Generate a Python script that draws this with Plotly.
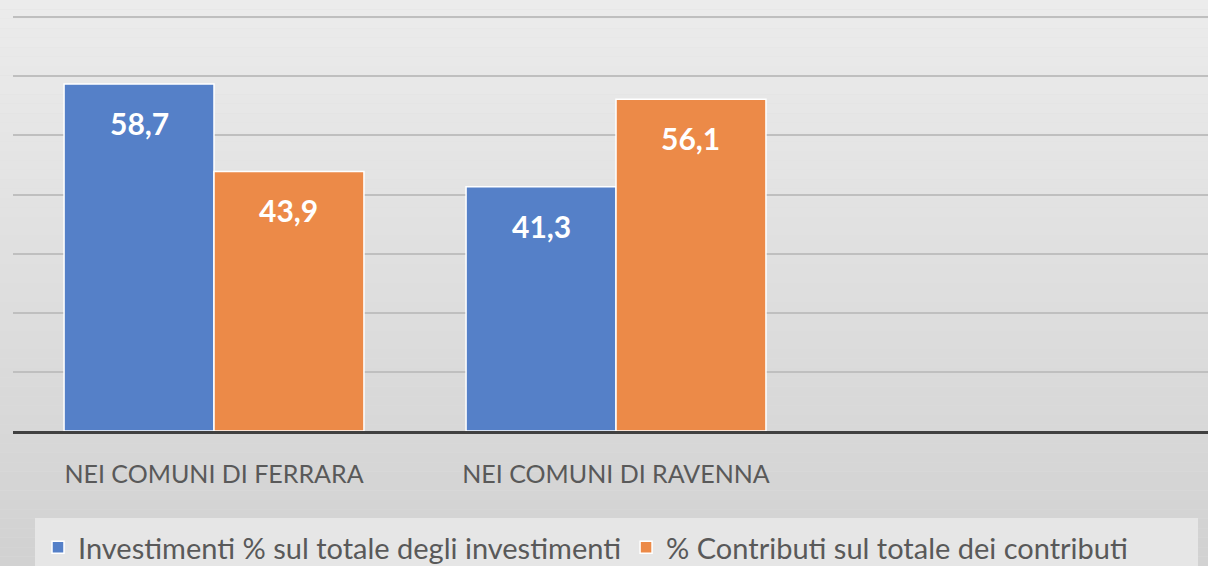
import plotly.graph_objects as go

categories = ["NEI COMUNI DI FERRARA", "NEI COMUNI DI RAVENNA"]
series_names = ["Investimenti % sul totale degli investimenti",
                "% Contributi sul totale dei contributi"]
investimenti = [58.7, 41.3]
contributi = [43.9, 56.1]
colors = ["#5580C8", "#EC8A48"]

W, H = 1208, 566
ML, MR, MT, MB = 13, 0, 0, 135
FONT = "Lato"

fig = go.Figure()
for name, vals, col in zip(series_names, [investimenti, contributi], colors):
    fig.add_trace(go.Bar(
        x=categories, y=vals, name=name,
        marker=dict(color=col, line=dict(color="#ffffff", width=1.5)),
    ))

bargap = 0.254
bar_w = (1 - bargap) / 2
offsets = [-bar_w / 2, bar_w / 2]
annotations = []
for off, vals in zip(offsets, [investimenti, contributi]):
    for i, v in enumerate(vals):
        annotations.append(dict(
            x=i + off, y=v, xref="x", yref="y",
            text=f"{v:.1f}".replace(".", ","), showarrow=False,
            yanchor="top", yshift=-19,
            font=dict(family=FONT, size=30, color="#ffffff", weight="bold"),
        ))

# background gradient strips
shapes = []
plot_h = H - MT - MB
plot_w = W - ML - MR
N = 60
y_bot = -(MB) / plot_h
y_top = 1 + MT / plot_h
for k in range(N):
    t = k / (N - 1)
    c = int(236 - 26 * t)
    y1 = y_top - (y_top - y_bot) * k / N
    y0 = y_top - (y_top - y_bot) * (k + 1) / N
    shapes.append(dict(type="rect", xref="paper", yref="paper",
                       x0=-0.02, x1=1.02, y0=y0, y1=y1,
                       fillcolor=f"rgb({c},{c},{c})", line=dict(width=0),
                       layer="below"))


def px_x(px):
    return (px - ML) / plot_w


def px_y(py):
    return (H - MB - py) / plot_h


# legend background box
shapes.append(dict(type="rect", xref="paper", yref="paper",
                   x0=px_x(35), x1=px_x(1198), y0=px_y(566), y1=px_y(518),
                   fillcolor="#e6e6e6", line=dict(width=0), layer="below"))

fig.update_layout(
    width=W, height=H,
    margin=dict(l=ML, r=MR, t=MT, b=MB, autoexpand=False),
    paper_bgcolor="#dedede", plot_bgcolor="rgba(0,0,0,0)",
    barmode="group", bargap=bargap, bargroupgap=0,
    font=dict(family=FONT, color="#595959"),
    xaxis=dict(type="category", categoryorder="array",
               categoryarray=categories + [" "],
               range=[-0.5, 2.4726], showline=True, linecolor="#404040",
               linewidth=3, ticks="", tickfont=dict(size=25, color="#595959"),
               ticklabelstandoff=19, showgrid=False, automargin=False),
    yaxis=dict(range=[0, 72.9], dtick=10, showticklabels=False,
               gridcolor="#bfbfbf", gridwidth=2, zeroline=False, automargin=False),
    legend=dict(orientation="h", x=px_x(38), xanchor="left", y=px_y(522), yanchor="top",
                bgcolor="rgba(0,0,0,0)", font=dict(size=29, color="#595959"),
                itemwidth=30, tracegroupgap=0),
    annotations=annotations, shapes=shapes,
    showlegend=True,
)

fig.write_html("out.html", config={"displayModeBar": False},
               post_script="document.body.style.margin='0';document.body.style.overflow='hidden';")
